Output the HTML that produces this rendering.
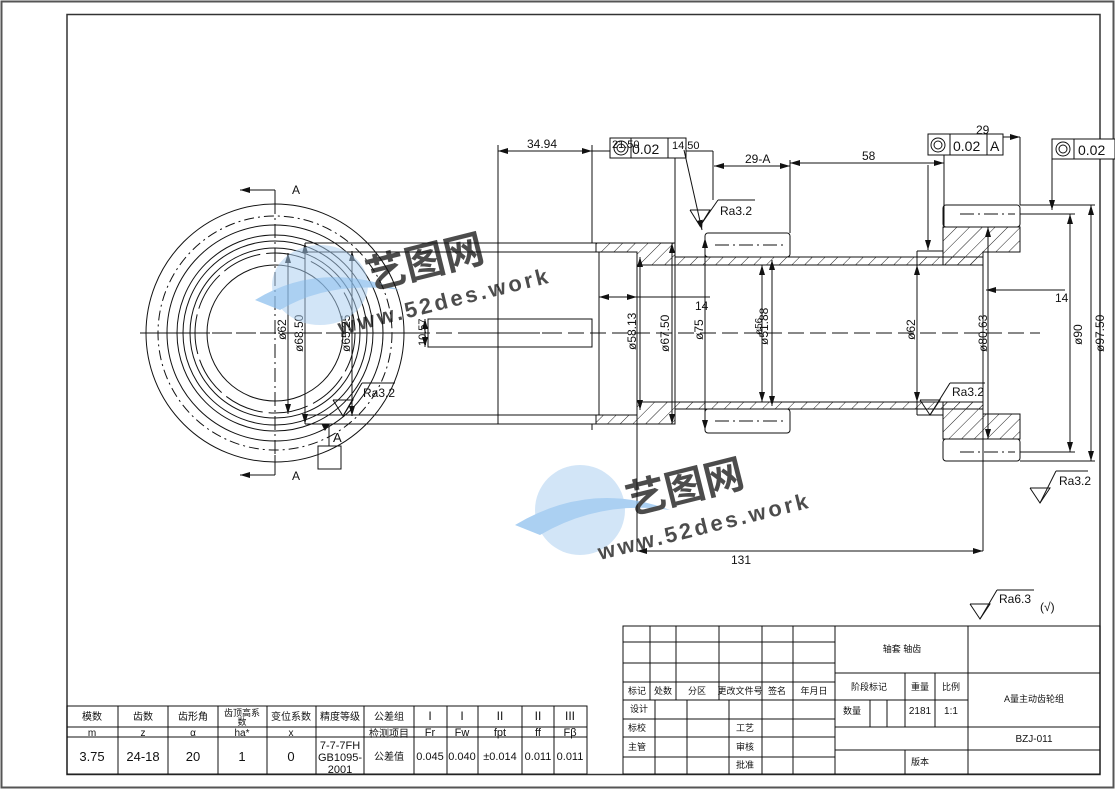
<!DOCTYPE html>
<html><head><meta charset="utf-8"><style>
html,body{margin:0;padding:0;background:#fff;}
svg{display:block;}
text{font-family:"Liberation Sans","Noto Sans CJK SC",sans-serif;fill:#111;}
.c{font-family:"Liberation Sans","Noto Sans CJK SC",sans-serif;}
</style></head><body>
<svg width="1115" height="790" viewBox="0 0 1115 790" xmlns="http://www.w3.org/2000/svg">
<defs>
<marker id="a" viewBox="0 0 10 6" refX="10" refY="3" markerWidth="10" markerHeight="6" markerUnits="userSpaceOnUse" orient="auto-start-reverse"><path d="M0,0L10,3L0,6z" fill="#111"/></marker>
<pattern id="h" patternUnits="userSpaceOnUse" width="9" height="9" patternTransform="rotate(45)"><line x1="0" y1="0" x2="0" y2="9" stroke="#222" stroke-width="1"/></pattern>
</defs>
<rect x="0" y="0" width="1115" height="790" fill="#fff"/>
<rect x="1.5" y="1.5" width="1112" height="786" fill="none" stroke="#555" stroke-width="2"/>
<rect x="67" y="14.5" width="1033" height="760" fill="none" stroke="#333" stroke-width="1.5"/>

<g stroke="#111" stroke-width="1" fill="none">
<!-- left view circles -->
<circle cx="275" cy="333" r="129"/>
<circle cx="275" cy="333" r="117" stroke-dasharray="10,4,2,4"/>
<circle cx="275" cy="333" r="108"/>
<circle cx="275" cy="333" r="98"/>
<circle cx="275" cy="333" r="92"/>
<circle cx="275" cy="333" r="85"/>
<circle cx="275" cy="333" r="80" stroke-dasharray="40,6"/>
<circle cx="275" cy="333" r="68"/>
<line x1="140" y1="333" x2="420" y2="333" stroke-dasharray="14,4,2,4"/>
<line x1="275" y1="200" x2="275" y2="470" stroke-dasharray="14,4,2,4"/>
<polyline points="275,190 275,190 240,190" marker-end="url(#a)"/>
<line x1="275" y1="190" x2="275" y2="210"/>
<line x1="275" y1="475" x2="240" y2="475" marker-end="url(#a)"/>
<line x1="275" y1="455" x2="275" y2="475"/>
<!-- left view dims -->
<line x1="288" y1="253" x2="288" y2="414" marker-start="url(#a)" marker-end="url(#a)"/>
<line x1="305" y1="243" x2="305" y2="424" marker-start="url(#a)" marker-end="url(#a)"/>
<line x1="352" y1="251" x2="352" y2="416" marker-start="url(#a)" marker-end="url(#a)"/>
<line x1="329" y1="424" x2="329" y2="446"/>
<rect x="318" y="446" width="23" height="23"/>
<path d="M322,424 L329,424 L325,430z" fill="#111"/>
<polyline points="333,400 353,400 343,416 333,400"/>
<line x1="343" y1="416" x2="362" y2="383"/>
<line x1="362" y1="383" x2="395" y2="383"/>
<!-- long shaft left -->
<line x1="305" y1="243" x2="596" y2="243"/>
<line x1="305" y1="252" x2="599" y2="252"/>
<line x1="305" y1="415" x2="599" y2="415"/>
<line x1="305" y1="424" x2="596" y2="424"/>
<line x1="498" y1="145" x2="498" y2="424"/>
<line x1="592" y1="145" x2="592" y2="243"/>
<line x1="592" y1="424" x2="592" y2="430"/>
<rect x="428" y="319" width="164" height="28"/>
<line x1="425" y1="319" x2="425" y2="347" marker-start="url(#a)" marker-end="url(#a)"/>
<line x1="470" y1="333" x2="560" y2="333" stroke-dasharray="14,4,2,4"/>
<!-- hatched regions -->
<g fill="url(#h)">
<path d="M596,243 L675,243 L675,257 L983,257 L983,265 L637,265 L637,252 L596,252 Z"/>
<path d="M596,424 L675,424 L675,409 L983,409 L983,402 L637,402 L637,415 L596,415 Z"/>
<path d="M943,227 L1020,227 L1020,252 L983,252 L983,265 L943,265 Z"/>
<path d="M943,439 L1020,439 L1020,414 L983,414 L983,402 L943,402 Z"/>
</g>
<line x1="599" y1="252" x2="599" y2="415"/>
<line x1="637" y1="257" x2="637" y2="551"/>
<line x1="675" y1="151" x2="675" y2="424"/>
<line x1="917" y1="251" x2="943" y2="251"/><line x1="917" y1="251" x2="917" y2="265"/>
<line x1="917" y1="415" x2="943" y2="415"/><line x1="917" y1="402" x2="917" y2="415"/>
<line x1="988" y1="227" x2="988" y2="439"/>
<!-- gears -->
<rect x="705" y="233" width="85" height="24" rx="3"/>
<rect x="705" y="409" width="85" height="24" rx="3"/>
<line x1="715" y1="245" x2="785" y2="245" stroke-dasharray="14,4,2,4"/>
<line x1="715" y1="421" x2="785" y2="421" stroke-dasharray="14,4,2,4"/>
<rect x="943" y="205" width="77" height="22" rx="3"/>
<rect x="943" y="439" width="77" height="22" rx="3"/>
<line x1="960" y1="214" x2="1015" y2="214" stroke-dasharray="14,4,2,4"/>
<line x1="960" y1="452" x2="1015" y2="452" stroke-dasharray="14,4,2,4"/>
<line x1="150" y1="333" x2="1040" y2="333" stroke-dasharray="16,6"/>
<!-- top dims -->
<line x1="498" y1="151" x2="592" y2="151" marker-start="url(#a)" marker-end="url(#a)"/>
<line x1="592" y1="151" x2="713" y2="151"/>
<line x1="713" y1="151" x2="713" y2="200"/>
<line x1="714" y1="166" x2="790" y2="166" marker-start="url(#a)" marker-end="url(#a)"/>
<line x1="790" y1="160" x2="790" y2="233"/>
<line x1="790" y1="163" x2="944" y2="163" marker-start="url(#a)" marker-end="url(#a)"/>
<line x1="944" y1="137" x2="1020" y2="137" marker-start="url(#a)" marker-end="url(#a)"/>
<line x1="944" y1="137" x2="944" y2="227"/>
<line x1="1020" y1="137" x2="1020" y2="205"/>
<line x1="928" y1="165" x2="928" y2="250" marker-end="url(#a)"/>
<rect x="610" y="138" width="76" height="20" fill="#fff"/>
<line x1="631" y1="138" x2="631" y2="158"/><line x1="668" y1="138" x2="668" y2="158"/>
<circle cx="621" cy="148" r="7"/><circle cx="621" cy="148" r="4"/>
<line x1="684" y1="150" x2="702" y2="230" marker-end="url(#a)"/>
<polyline points="690,210 710,210 700,226 690,210"/>
<line x1="700" y1="226" x2="718" y2="200"/><line x1="718" y1="200" x2="755" y2="200"/>
<line x1="705" y1="238" x2="705" y2="430" marker-start="url(#a)" marker-end="url(#a)"/>
<rect x="928" y="134" width="75" height="21" fill="#fff"/>
<line x1="950" y1="134" x2="950" y2="155"/><line x1="987" y1="134" x2="987" y2="155"/>
<circle cx="938" cy="145" r="7"/><circle cx="938" cy="145" r="4"/>
<rect x="1052" y="139" width="63" height="20" fill="#fff"/>
<line x1="1074" y1="139" x2="1074" y2="159"/>
<circle cx="1063" cy="149" r="7"/><circle cx="1063" cy="149" r="4"/>
<line x1="1052" y1="159" x2="1052" y2="210" marker-end="url(#a)"/>
<!-- right dims -->
<line x1="1020" y1="214" x2="1075" y2="214"/>
<line x1="1020" y1="452" x2="1075" y2="452"/>
<line x1="1070" y1="214" x2="1070" y2="452" marker-start="url(#a)" marker-end="url(#a)"/>
<line x1="1020" y1="205" x2="1095" y2="205"/>
<line x1="1020" y1="461" x2="1095" y2="461"/>
<line x1="1091" y1="205" x2="1091" y2="461" marker-start="url(#a)" marker-end="url(#a)"/>
<line x1="986" y1="290" x2="1020" y2="290" marker-start="url(#a)"/>
<line x1="1020" y1="290" x2="1065" y2="290"/>
<line x1="599" y1="297" x2="637" y2="297" marker-start="url(#a)" marker-end="url(#a)"/>
<line x1="637" y1="297" x2="710" y2="297"/>
<line x1="983" y1="265" x2="983" y2="551"/>
<line x1="637" y1="551" x2="983" y2="551" marker-start="url(#a)" marker-end="url(#a)"/>
<line x1="640" y1="257" x2="640" y2="410" marker-start="url(#a)" marker-end="url(#a)"/>
<line x1="672" y1="243" x2="672" y2="424" marker-start="url(#a)" marker-end="url(#a)"/>
<line x1="762" y1="265" x2="762" y2="402" marker-start="url(#a)" marker-end="url(#a)"/>
<line x1="772" y1="260" x2="772" y2="406" marker-start="url(#a)" marker-end="url(#a)"/>
<line x1="917" y1="265" x2="917" y2="402" marker-start="url(#a)" marker-end="url(#a)"/>
<line x1="988" y1="227" x2="988" y2="439" marker-start="url(#a)" marker-end="url(#a)"/>
<!-- Ra marks -->
<polyline points="920,400 940,400 930,415 920,400"/>
<line x1="930" y1="415" x2="950" y2="383"/><line x1="950" y1="383" x2="985" y2="383"/>
<polyline points="1030,488 1050,488 1040,503 1030,488"/>
<line x1="1040" y1="503" x2="1056" y2="471"/><line x1="1056" y1="471" x2="1088" y2="471"/>
<polyline points="970,604 990,604 980,619 970,604"/>
<line x1="980" y1="619" x2="997" y2="590"/><line x1="997" y1="590" x2="1034" y2="590"/>
</g>

<!-- texts -->
<g font-size="12">
<text x="292" y="194">A</text><text x="292" y="480">A</text>
<text x="333" y="442" font-size="13">A</text>
<text x="527" y="148">34.94</text>
<text x="612" y="148" font-size="11">21.50</text>
<text x="632" y="154" font-size="14">0.02</text>
<text x="672" y="149" font-size="11">14.50</text>
<text x="745" y="163">29-A</text>
<text x="862" y="160">58</text>
<text x="976" y="134">29</text>
<text x="953" y="151" font-size="14">0.02</text><text x="990" y="151" font-size="14">A</text>
<text x="1078" y="155" font-size="14">0.02</text>
<text x="720" y="215">Ra3.2</text>
<text x="363" y="397">Ra3.2</text>
<text x="952" y="396">Ra3.2</text>
<text x="1059" y="485">Ra3.2</text>
<text x="999" y="603">Ra6.3</text>
<text x="1040" y="611">(√)</text>
<text x="695" y="310">14</text>
<text x="1055" y="302">14</text>
<text x="731" y="564">131</text>
<text transform="translate(286,340) rotate(-90)">ø62</text>
<text transform="translate(303,352) rotate(-90)">ø68.50</text>
<text transform="translate(350,352) rotate(-90)">ø65.25</text>
<text transform="translate(426,346) rotate(-90)" font-size="11">10.57</text>
<text transform="translate(636,350) rotate(-90)">ø58.13</text>
<text transform="translate(669,352) rotate(-90)">ø67.50</text>
<text transform="translate(703,340) rotate(-90)">ø75</text>
<text transform="translate(768,345) rotate(-90)">ø51.88</text>
<text transform="translate(762,335) rotate(-90)" font-size="10">ø56</text>
<text transform="translate(915,340) rotate(-90)">ø62</text>
<text transform="translate(987,352) rotate(-90)">ø80.63</text>
<text transform="translate(1082,345) rotate(-90)">ø90</text>
<text transform="translate(1104,352) rotate(-90)">ø97.50</text>
</g>

<!-- watermarks -->
<g fill="#7f9fd8" opacity="0.75" font-weight="bold">
<ellipse cx="320" cy="285" rx="48" ry="40" fill="#a9cdf0" opacity="0.7"/>
<path d="M255,300 Q320,260 400,290 Q330,280 280,310 Z" fill="#8fc0ee"/>
<text x="370" y="290" font-size="40" transform="rotate(-14 370 290)" fill="#7f9fd8">艺图网</text>
<text x="340" y="335" font-size="22" transform="rotate(-14 340 335)" fill="#7f9fd8" letter-spacing="3">www.52des.work</text>
<ellipse cx="580" cy="510" rx="45" ry="45" fill="#a9cdf0" opacity="0.7"/>
<path d="M515,525 Q590,480 670,510 Q600,500 540,535 Z" fill="#8fc0ee"/>
<text x="630" y="515" font-size="40" transform="rotate(-14 630 515)" fill="#7f9fd8">艺图网</text>
<text x="600" y="560" font-size="22" transform="rotate(-14 600 560)" fill="#7f9fd8" letter-spacing="3">www.52des.work</text>
</g>

<!-- gear table -->
<g stroke="#111" stroke-width="1" fill="none">
<rect x="67" y="706" width="520" height="68"/>
<line x1="67" y1="727" x2="587" y2="727"/>
<line x1="67" y1="737" x2="587" y2="737"/>
<line x1="118" y1="706" x2="118" y2="774"/><line x1="168" y1="706" x2="168" y2="774"/>
<line x1="218" y1="706" x2="218" y2="774"/><line x1="267" y1="706" x2="267" y2="774"/>
<line x1="316" y1="706" x2="316" y2="774"/><line x1="364" y1="706" x2="364" y2="774"/>
<line x1="414" y1="706" x2="414" y2="774"/><line x1="447" y1="706" x2="447" y2="774"/>
<line x1="478" y1="706" x2="478" y2="774"/><line x1="522" y1="706" x2="522" y2="774"/>
<line x1="554" y1="706" x2="554" y2="774"/>
</g>
<g font-size="10" text-anchor="middle">
<text x="92" y="720">模数</text><text x="143" y="720">齿数</text><text x="193" y="720">齿形角</text>
<text x="242" y="716" font-size="9">齿顶高系</text><text x="242" y="725" font-size="9">数</text>
<text x="291" y="720">变位系数</text><text x="340" y="720">精度等级</text><text x="389" y="720">公差组</text>
<text x="430" y="720" font-size="12">I</text><text x="462" y="720" font-size="12">I</text>
<text x="500" y="720" font-size="12">II</text><text x="538" y="720" font-size="12">II</text><text x="570" y="720" font-size="12">III</text>
<text x="92" y="736">m</text><text x="143" y="736">z</text><text x="193" y="736">α</text><text x="242" y="736">ha*</text><text x="291" y="736">x</text>
<text x="389" y="737">检测项目</text>
<text x="430" y="736" font-size="11">Fr</text><text x="462" y="736" font-size="11">Fw</text><text x="500" y="736" font-size="11">fpt</text><text x="538" y="736" font-size="11">ff</text><text x="570" y="736" font-size="11">Fβ</text>
<g font-size="13"><text x="92" y="761">3.75</text><text x="143" y="761">24-18</text><text x="193" y="761">20</text><text x="242" y="761">1</text><text x="291" y="761">0</text></g>
<text x="340" y="749" font-size="11">7-7-7FH</text><text x="340" y="761" font-size="11">GB1095-</text><text x="340" y="773" font-size="11">2001</text>
<text x="389" y="760">公差值</text>
<g font-size="11"><text x="430" y="760">0.045</text><text x="462" y="760">0.040</text><text x="500" y="760">±0.014</text><text x="538" y="760">0.011</text><text x="570" y="760">0.011</text></g>
</g>

<!-- title block -->
<g stroke="#111" stroke-width="1" fill="none">
<rect x="623" y="626" width="477" height="148"/>
<line x1="623" y1="642" x2="835" y2="642"/><line x1="623" y1="663" x2="835" y2="663"/>
<line x1="623" y1="682" x2="835" y2="682"/><line x1="623" y1="700" x2="968" y2="700"/>
<line x1="623" y1="719" x2="835" y2="719"/><line x1="623" y1="737" x2="835" y2="737"/>
<line x1="623" y1="757" x2="835" y2="757"/>
<line x1="650" y1="626" x2="650" y2="700"/><line x1="676" y1="626" x2="676" y2="700"/>
<line x1="719" y1="626" x2="719" y2="700"/><line x1="762" y1="626" x2="762" y2="774"/>
<line x1="793" y1="626" x2="793" y2="774"/><line x1="835" y1="626" x2="835" y2="774"/>
<line x1="655" y1="700" x2="655" y2="774"/><line x1="687" y1="700" x2="687" y2="774"/><line x1="729" y1="700" x2="729" y2="774"/>
<line x1="835" y1="673" x2="1100" y2="673"/>
<line x1="968" y1="626" x2="968" y2="774"/>
<line x1="905" y1="673" x2="905" y2="727"/><line x1="935" y1="673" x2="935" y2="727"/>
<line x1="870" y1="700" x2="870" y2="727"/><line x1="887" y1="700" x2="887" y2="727"/>
<line x1="835" y1="727" x2="1100" y2="727"/><line x1="835" y1="750" x2="1100" y2="750"/>
<line x1="905" y1="750" x2="905" y2="774"/>
</g>
<g font-size="9" text-anchor="middle">
<text x="637" y="694">标记</text><text x="663" y="694">处数</text><text x="697" y="694">分区</text><text x="740" y="694">更改文件号</text><text x="777" y="694">签名</text><text x="814" y="694">年月日</text>
<text x="639" y="712">设计</text><text x="637" y="731">标校</text><text x="637" y="750">主管</text>
<text x="745" y="731">工艺</text><text x="745" y="750">审核</text><text x="745" y="768">批准</text>
<text x="902" y="652">轴套 轴齿</text>
<text x="869" y="690">阶段标记</text><text x="920" y="690">重量</text><text x="951" y="690">比例</text>
<text x="852" y="714">数量</text><text x="920" y="714" font-size="10">2181</text><text x="951" y="714" font-size="10">1:1</text>
<text x="920" y="765">版本</text>
<text x="1034" y="702">A量主动齿轮组</text>
<text x="1034" y="742" font-size="10">BZJ-011</text>
</g>
</svg>
</body></html>
